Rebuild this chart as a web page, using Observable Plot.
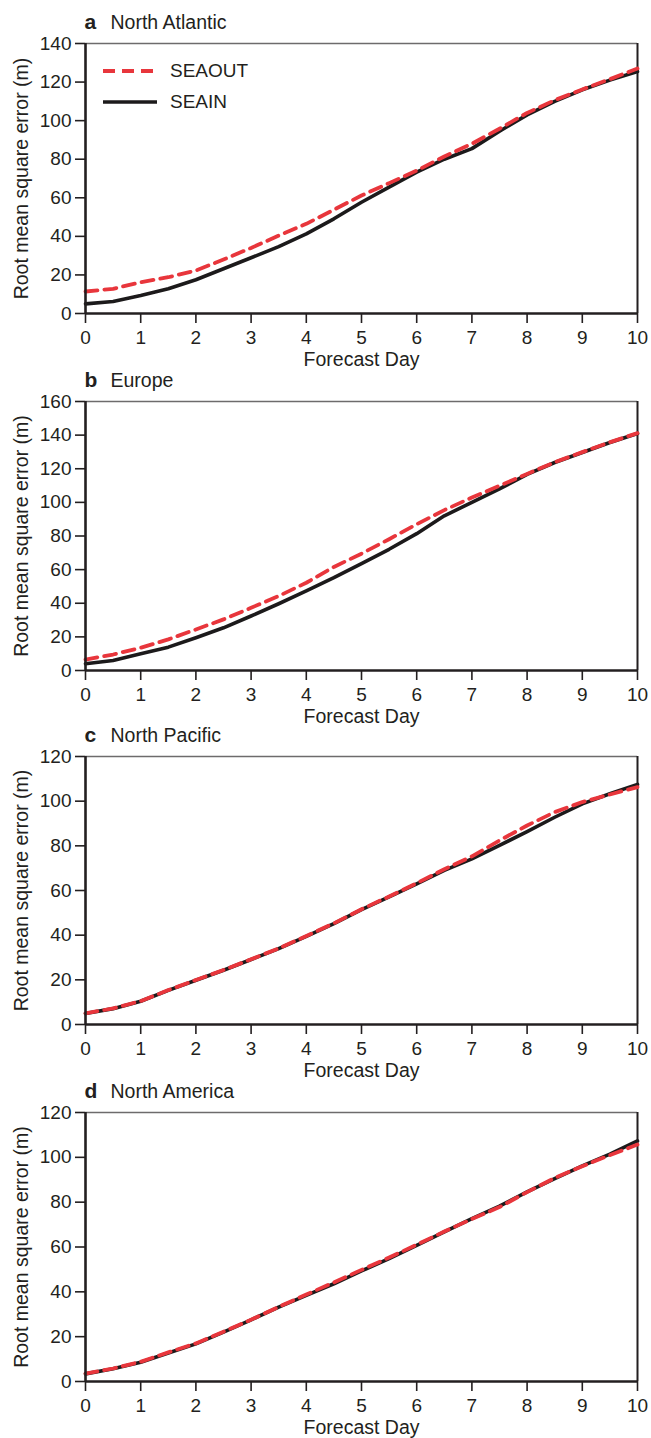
<!DOCTYPE html>
<html>
<head>
<meta charset="utf-8">
<script src="https://cdn.jsdelivr.net/npm/d3@7"></script>
<script src="https://cdn.jsdelivr.net/npm/@observablehq/plot@0.6"></script>
<style>
  body { margin: 0; background: #fff; font-family: "Liberation Sans", Arial, Helvetica, sans-serif; }
  #chart { position: relative; width: 651px; }
  #chart svg { display: block; }
  g[aria-label$="axis tick"] path { stroke-width: 1.6px; }
  .legend { position: absolute; font-size: 19px; color: #231f20; }
  .legend .row { position: absolute; left: 0; display: flex; align-items: center; white-space: nowrap; }
  .legend .row span { margin-left: 13px; }
</style>
</head>
<body>
<div id="chart"></div>
<script>
// ---- data ----
const days = [0, 0.5, 1, 1.5, 2, 2.5, 3, 3.5, 4, 4.5, 5, 5.5, 6, 6.5, 7, 7.5, 8, 8.5, 9, 9.5, 10];
const seriesNames = ["SEAOUT", "SEAIN"];
const panelLetters = ["a", "b", "c", "d"];
const panelNames = ["North Atlantic", "Europe", "North Pacific", "North America"];

const atlanticSEAIN  = [5.0, 6.2, 9.3, 12.8, 17.5, 23.2, 28.9, 34.7, 41.3, 49.1, 57.7, 65.5, 73.3, 80.0, 85.5, 94.5, 103.0, 110.0, 116.0, 121.0, 125.5];
const atlanticSEAOUT = [11.4, 12.8, 16.2, 18.8, 22.3, 28.0, 34.0, 40.4, 46.5, 53.8, 61.2, 67.6, 74.1, 81.4, 88.0, 95.8, 104.0, 110.6, 116.2, 121.5, 127.0];
const europeSEAIN    = [4.0, 6.0, 9.9, 13.9, 19.5, 25.4, 32.4, 39.7, 47.3, 55.2, 63.6, 72.1, 81.4, 92.0, 100.0, 108.0, 116.7, 123.7, 129.7, 135.6, 141.0];
const europeSEAOUT   = [6.5, 9.5, 13.5, 18.5, 24.4, 30.4, 37.3, 44.3, 52.2, 61.6, 69.5, 78.1, 87.0, 95.4, 102.9, 109.9, 116.9, 123.9, 129.9, 135.8, 141.2];
const pacificSEAIN   = [4.9, 7.1, 10.4, 15.3, 19.8, 24.3, 29.1, 34.0, 39.5, 45.2, 51.4, 57.1, 63.0, 69.0, 74.2, 80.2, 86.4, 92.8, 98.8, 103.3, 107.5];
const pacificSEAOUT  = [5.0, 7.2, 10.5, 15.4, 19.9, 24.4, 29.2, 34.1, 39.6, 45.3, 51.6, 57.3, 63.3, 69.5, 75.3, 82.4, 89.1, 95.1, 99.6, 103.0, 106.3];
const americaSEAIN   = [3.4, 5.7, 8.6, 12.7, 16.8, 22.0, 27.5, 33.2, 38.4, 43.6, 49.3, 54.8, 60.7, 66.7, 72.7, 78.2, 84.6, 90.5, 96.2, 101.4, 107.3];
const americaSEAOUT  = [3.5, 5.8, 8.8, 13.0, 17.0, 22.2, 27.6, 33.3, 38.8, 44.2, 49.8, 55.3, 61.0, 66.9, 72.5, 77.8, 84.5, 90.8, 96.0, 101.0, 105.7];

const xTicks = [0, 1, 2, 3, 4, 5, 6, 7, 8, 9, 10];
const yTicksA = [0, 20, 40, 60, 80, 100, 120, 140];
const yTicksB = [0, 20, 40, 60, 80, 100, 120, 140, 160];
const yTicksC = [0, 20, 40, 60, 80, 100, 120];
const yTicksD = [0, 20, 40, 60, 80, 100, 120];

const xLabel = "Forecast Day";
const yLabel = "Root mean square error (m)";

// ---- layout ----
const RED = "#e8363c";
const BLACK = "#1c1a1b";
const INK = "#231f20";
const FONT = '"Liberation Sans", Arial, Helvetica, sans-serif';

const panels = [
  { letter: panelLetters[0], name: panelNames[0], seain: atlanticSEAIN, seaout: atlanticSEAOUT, yTicks: yTicksA, height: 370, mt: 43, mb: 57 },
  { letter: panelLetters[1], name: panelNames[1], seain: europeSEAIN,   seaout: europeSEAOUT,   yTicks: yTicksB, height: 357, mt: 31, mb: 57 },
  { letter: panelLetters[2], name: panelNames[2], seain: pacificSEAIN,  seaout: pacificSEAOUT,  yTicks: yTicksC, height: 356, mt: 29, mb: 59 },
  { letter: panelLetters[3], name: panelNames[3], seain: americaSEAIN,  seaout: americaSEAOUT,  yTicks: yTicksD, height: 355, mt: 29, mb: 57 }
];

const chart = document.getElementById("chart");

panels.forEach((p, i) => {
  const yMax = p.yTicks[p.yTicks.length - 1];
  const inData = days.map((d, k) => ({ day: d, v: p.seain[k] }));
  const outData = days.map((d, k) => ({ day: d, v: p.seaout[k] }));
  const svg = Plot.plot({
    width: 651,
    height: p.height,
    marginLeft: 85,
    marginRight: 14,
    marginTop: p.mt,
    marginBottom: p.mb,
    style: { fontFamily: FONT, fontSize: "19px", color: INK, background: "white", overflow: "visible" },
    x: { domain: [0, 10], ticks: xTicks, tickSize: 10, tickPadding: 7, label: null, tickFormat: d => String(d) },
    y: { domain: [0, yMax], ticks: p.yTicks, tickSize: 10, tickPadding: 4, label: null, tickFormat: d => String(d) },
    marks: [
      Plot.ruleY([yMax], { stroke: "#6d6b6c", strokeWidth: 1.3 }),
      Plot.ruleX([10], { stroke: INK, strokeWidth: 2 }),
      Plot.line(inData, { x: "day", y: "v", stroke: BLACK, strokeWidth: 3.6 }),
      Plot.line(outData, { x: "day", y: "v", stroke: RED, strokeWidth: 3.8, strokeDasharray: "12 7" }),
      Plot.ruleX([0], { stroke: INK, strokeWidth: 2.6 }),
      Plot.ruleY([0], { stroke: INK, strokeWidth: 2.6 }),
      Plot.text([p.letter], { frameAnchor: "top-left", dx: -1, dy: -15, lineAnchor: "bottom", textAnchor: "start", fontWeight: "bold", fontSize: 21, fill: INK }),
      Plot.text([p.name], { frameAnchor: "top-left", dx: 25, dy: -15, lineAnchor: "bottom", textAnchor: "start", fontSize: 19.5, fill: INK }),
      Plot.text([xLabel], { frameAnchor: "bottom", dy: 52.5, lineAnchor: "bottom", textAnchor: "middle", fontSize: 19.5, fill: INK }),
      Plot.text([yLabel], { frameAnchor: "left", dx: -58, rotate: -90, lineAnchor: "bottom", textAnchor: "middle", fontSize: 19.5, fill: INK })
    ]
  });
  const wrap = document.createElement("div");
  wrap.style.position = "relative";
  wrap.appendChild(svg);
  if (i === 0) {
    // legend inside panel a
    const leg = document.createElement("div");
    leg.className = "legend";
    leg.style.left = "103px";
    leg.style.top = "59px";
    const styles = [
      { stroke: RED, width: 4, dash: "12 7" },
      { stroke: BLACK, width: 3.6, dash: null }
    ];
    seriesNames.forEach((name, k) => {
      const row = document.createElement("div");
      row.className = "row";
      row.style.top = (k * 31) + "px";
      const s = styles[k];
      row.innerHTML = `<svg width="54" height="24" style="display:block"><line x1="0" y1="12" x2="54" y2="12" stroke="${s.stroke}" stroke-width="${s.width}" ${s.dash ? `stroke-dasharray="${s.dash}"` : ""}/></svg><span>${name}</span>`;
      leg.appendChild(row);
    });
    wrap.appendChild(leg);
  }
  chart.appendChild(wrap);
});
</script>
</body>
</html>
